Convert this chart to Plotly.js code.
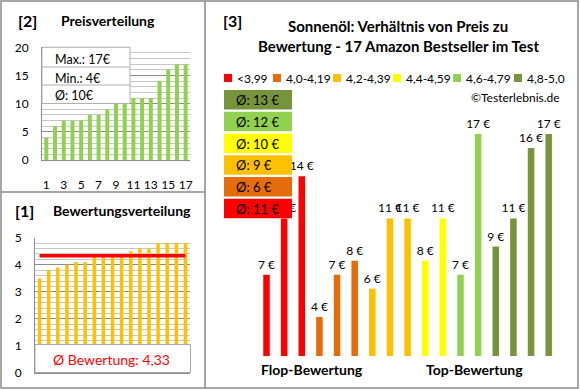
<!DOCTYPE html>
<html>
<head>
<meta charset="utf-8">
<script src="https://cdn.plot.ly/plotly-3.0.1.min.js"></script>
<style>
html,body{margin:0;padding:0;background:#fff;}
#chart{width:580px;height:390px;}
</style>
</head>
<body>
<div id="chart"></div>
<script>
// ---------- DATA ----------
const ranks = [1,2,3,4,5,6,7,8,9,10,11,12,13,14,15,16,17];
const priceTicks = [1,3,5,7,9,11,13,15,17];
// Panel [2]: prices sorted ascending
const sortedPrices = [4,6,7,7,7,8,8,9,10,10,11,11,11,14,16,17,17];
// Panel [1]: ratings sorted ascending
const sortedRatings = [3.5,3.8,3.9,4.0,4.1,4.1,4.3,4.3,4.3,4.4,4.5,4.6,4.6,4.8,4.8,4.8,4.8];
// Panel [3]: prices ordered by rating (flop -> top)
const pricesByRating = [7,11,14,4,7,8,6,11,11,8,11,7,17,9,11,16,17];
const ratingGroup = [0,0,0,1,1,1,2,2,2,3,3,4,4,5,5,5,5];
const groupLabels = ['<3,99','4,0-4,19','4,2-4,39','4,4-4,59','4,6-4,79','4,8-5,0'];

// ---------- STYLE ----------
const groupColors = ['#FF0000','#E46C0A','#FFC000','#FFFF00','#92D050','#77933C'];
const FONT = 'Lato, "Open Sans", sans-serif';
const W = 580, H = 390;
const px = x => x / W;
const py = y => 1 - y / H;
const frameColor = '#8a8a8a';
const majorGrid = '#8c8c8c';
const minorGrid = '#c6c6c6';

// ---------- DERIVED ----------
const maxP = Math.max(...sortedPrices);
const minP = Math.min(...sortedPrices);
const avgP = Math.round(sortedPrices.reduce((a,b)=>a+b,0) / sortedPrices.length);
const avgR = sortedRatings.reduce((a,b)=>a+b,0) / sortedRatings.length;
const groupAvg = groupLabels.map((_, g) => {
  const v = pricesByRating.filter((_, i) => ratingGroup[i] === g);
  return Math.round(v.reduce((a,b)=>a+b,0) / v.length);
});

// ---------- TRACES ----------
const traces = [
  { type:'bar', x:ranks, y:sortedPrices, xaxis:'x', yaxis:'y',
    marker:{color:'#92D050'}, width:0.46, hoverinfo:'skip', showlegend:false },
  { type:'bar', x:ranks, y:sortedRatings, xaxis:'x2', yaxis:'y2',
    marker:{color:'#FFC000'}, width:0.38, hoverinfo:'skip', showlegend:false },
  { type:'scatter', mode:'lines', x:ranks, y:ranks.map(() => avgR), xaxis:'x2', yaxis:'y2',
    line:{color:'#FF0000', width:3.5}, hoverinfo:'skip', showlegend:false },
  { type:'bar', x:ranks, y:pricesByRating, xaxis:'x3', yaxis:'y3',
    marker:{color:ratingGroup.map(g => groupColors[g])}, width:0.37,
    text:pricesByRating.map(v => v + ' €'), textposition:'outside', constraintext:'none',
    cliponaxis:false, textfont:{family:FONT, size:12, color:'#000'},
    hoverinfo:'skip', showlegend:false }
];

// ---------- SHAPES ----------
const shapes = [];
// frame
shapes.push({type:'rect', xref:'paper', yref:'paper', x0:px(1), x1:px(578), y0:py(1), y1:py(388),
  line:{color:frameColor, width:1.5}, layer:'above'});
shapes.push({type:'line', xref:'paper', yref:'paper', x0:px(205), x1:px(205), y0:py(1), y1:py(388),
  line:{color:frameColor, width:1.5}, layer:'above'});
shapes.push({type:'line', xref:'paper', yref:'paper', x0:px(1), x1:px(205), y0:py(192), y1:py(192),
  line:{color:frameColor, width:1.5}, layer:'above'});
// panel 2 stats box
shapes.push({type:'rect', xref:'paper', yref:'paper', x0:px(42), x1:px(130), y0:py(47.3), y1:py(103.5),
  fillcolor:'#fff', line:{color:'#b0b0b0', width:1}, layer:'above'});
[67, 85].forEach(y => shapes.push({type:'line', xref:'paper', yref:'paper', x0:px(42), x1:px(130),
  y0:py(y), y1:py(y), line:{color:'#b0b0b0', width:1}, layer:'above'}));
// panel 1 bottom box
shapes.push({type:'rect', xref:'paper', yref:'paper', x0:px(35), x1:px(190.5), y0:py(344.5), y1:py(372.5),
  fillcolor:'#fff', line:{color:'#a8a8a8', width:1}, layer:'above'});
// panel 3 legend squares
const legendX = [224, 273, 333, 393, 453, 514];
groupColors.forEach((c, i) => shapes.push({type:'rect', xref:'paper', yref:'paper',
  x0:px(legendX[i]), x1:px(legendX[i]+8), y0:py(74), y1:py(82),
  fillcolor:c, line:{width:0}, layer:'above'}));
// panel 3 average boxes (top: best group)
const boxOrder = [5,4,3,2,1,0];
boxOrder.forEach((g, k) => {
  const top = 90 + k * 21.75;
  shapes.push({type:'rect', xref:'paper', yref:'paper', x0:px(224), x1:px(292),
    y0:py(top), y1:py(top + 19.5), fillcolor:groupColors[g], line:{width:0}, layer:'above'});
});

// ---------- ANNOTATIONS ----------
const ann = [];
function txt(t, x, y, size, opts) {
  ann.push(Object.assign({text:t, xref:'paper', yref:'paper', x:px(x), y:py(y),
    xanchor:'center', yanchor:'middle', showarrow:false,
    font:{family:FONT, size:size, color:'#000'}}, opts || {}));
}
// panel 2
txt('<b>[2]</b>', 27.5, 20, 16);
txt('<b>Preisverteilung</b>', 108, 20, 14);
txt('Max.: ' + maxP + '€', 53, 59.3, 12.5, {xanchor:'left'});
txt('Min.: ' + minP + '€', 53, 78.3, 12.5, {xanchor:'left'});
txt('Ø: ' + avgP + '€', 53, 95.7, 12.5, {xanchor:'left'});
// panel 1
txt('<b>[1]</b>', 24.5, 210.5, 16);
txt('<b>Bewertungsverteilung</b>', 121.5, 210.5, 14);
txt('Ø Bewertung: ' + avgR.toFixed(2).replace('.', ','), 111, 359, 14, {font:{family:FONT, size:14, color:'#FF0000'}});
// panel 3
txt('<b>[3]</b>', 232.5, 20.5, 16);
txt('<b>Sonnenöl: Verhältnis von Preis zu</b>', 398, 26.5, 15);
txt('<b>Bewertung - 17 Amazon Bestseller im Test</b>', 398.5, 46, 15);
groupLabels.forEach((l, i) => txt(l, legendX[i] + 11, 78.3, 12, {xanchor:'left'}));
txt('©Testerlebnis.de', 562, 97.7, 12, {xanchor:'right'});
boxOrder.forEach((g, k) => {
  const top = 90 + k * 21.75;
  txt('Ø: ' + groupAvg[g] + ' €', 234, top + 10, 13, {xanchor:'left'});
});
txt('<b>Flop-Bewertung</b>', 312, 369.5, 14);
txt('<b>Top-Bewertung</b>', 474, 369.5, 14);

// ---------- LAYOUT ----------
const tickFont = {family:FONT, size:12, color:'#000'};
const layout = {
  width:W, height:H, margin:{l:0, r:0, t:0, b:0},
  paper_bgcolor:'#fff', plot_bgcolor:'rgba(0,0,0,0)',
  barmode:'overlay', showlegend:false,
  font:{family:FONT},
  xaxis:{domain:[px(42), px(190)], anchor:'y', range:[0.5, 17.5], tickvals:priceTicks,
    showgrid:false, zeroline:false, showline:true, linecolor:majorGrid, linewidth:1,
    ticks:'', tickfont:tickFont, ticklabelstandoff:14, fixedrange:true},
  yaxis:{domain:[py(160), py(47.3)], anchor:'x', range:[0, 20], tickvals:[0,5,10,15,20],
    showgrid:true, gridcolor:majorGrid, gridwidth:1, zeroline:false, showline:true,
    linecolor:majorGrid, ticks:'', tickfont:tickFont, ticklabelstandoff:10,
    minor:{dtick:1, showgrid:true, gridcolor:minorGrid, gridwidth:1}, fixedrange:true},
  xaxis2:{domain:[px(35), px(190)], anchor:'y2', range:[0.5, 17.5],
    showgrid:false, zeroline:false, showline:true, linecolor:majorGrid,
    showticklabels:false, ticks:'', fixedrange:true},
  yaxis2:{domain:[py(373), py(237.7)], anchor:'x2', range:[0, 5], tickvals:[0,1,2,3,4,5],
    showgrid:true, gridcolor:majorGrid, gridwidth:1, zeroline:false, showline:true,
    linecolor:majorGrid, ticks:'', tickfont:tickFont, ticklabelstandoff:10,
    minor:{dtick:0.2, showgrid:true, gridcolor:minorGrid, gridwidth:1}, fixedrange:true},
  xaxis3:{domain:[px(257.7), px(557.5)], anchor:'y3', range:[0.5, 17.5], visible:false, fixedrange:true},
  yaxis3:{domain:[py(356), py(91.7)], anchor:'x3', range:[1.23, 20], visible:false, fixedrange:true},
  shapes:shapes,
  annotations:ann
};

Plotly.newPlot('chart', traces, layout, {staticPlot:true, displayModeBar:false});
</script>
</body>
</html>
